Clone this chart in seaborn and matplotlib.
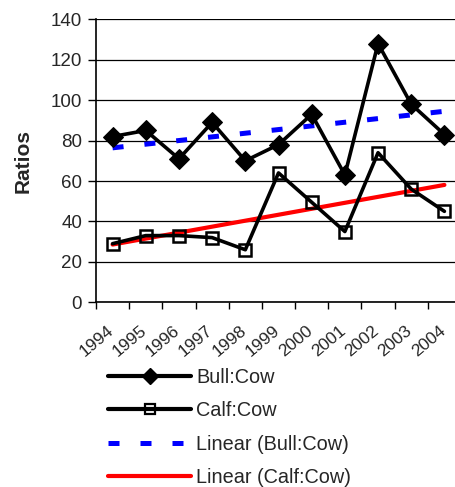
import numpy as np
import pandas as pd
import matplotlib
matplotlib.use("Agg")
import matplotlib.pyplot as plt
import matplotlib.transforms as mtrans
from matplotlib.lines import Line2D
import seaborn as sns

years = ["1994", "1995", "1996", "1997", "1998", "1999", "2000", "2001", "2002", "2003", "2004"]
bull_cow = [82, 85, 71, 89, 70, 78, 93, 63, 128, 98, 83]
calf_cow = [29, 33, 33, 32, 26, 64, 49.5, 35, 74, 56, 45]
y_ticks = [0, 20, 40, 60, 80, 100, 120, 140]

sns.set_theme(style="white")
plt.rcParams['font.family'] = ['Liberation Sans', 'DejaVu Sans']

df = pd.DataFrame({"Year": years, "Bull:Cow": bull_cow, "Calf:Cow": calf_cow})
idx = np.arange(len(years))
df["Linear (Bull:Cow)"] = np.polyval(np.polyfit(idx, bull_cow, 1), idx)
df["Linear (Calf:Cow)"] = np.polyval(np.polyfit(idx, calf_cow, 1), idx)

fig = plt.figure(figsize=(4.55, 4.87), dpi=100)
ax = fig.add_axes([96/455, 1 - 302.3/487, 365/455, 283/487])

sns.lineplot(data=df, x="Year", y="Linear (Bull:Cow)", ax=ax, color="#0000FF",
             lw=3.6, dashes=False, sort=False, zorder=2)
ax.lines[-1].set_dashes([2.2, 4.2])
sns.lineplot(data=df, x="Year", y="Linear (Calf:Cow)", ax=ax, color="#FF0000",
             lw=3.0, sort=False, zorder=2)
sns.lineplot(data=df, x="Year", y="Bull:Cow", ax=ax, color="black", lw=2.6,
             marker="D", markersize=10.5, markerfacecolor="black", markeredgecolor="black",
             sort=False, zorder=3)
sns.lineplot(data=df, x="Year", y="Calf:Cow", ax=ax, color="black", lw=2.6,
             marker="s", markersize=9, markerfacecolor="none", markeredgecolor="black",
             markeredgewidth=1.8, sort=False, zorder=3)

ax.set_xlim(-0.5, len(years) - 0.5)
ax.set_ylim(0, 140)
ax.set_yticks(y_ticks)
ax.set_yticklabels([str(v) for v in y_ticks], fontsize=13.5)
ax.yaxis.grid(True, color="black", lw=0.9)
ax.set_axisbelow(True)
ax.tick_params(axis="y", left=True, length=6, width=1, color="black", pad=4)

ax.set_xticks(idx)
ax.set_xticklabels(years, rotation=40, ha="right", va="top",
                   rotation_mode="anchor", fontsize=12.5)
ax.set_xticks(np.arange(-0.5, len(years), 1), minor=True)
ax.tick_params(axis="x", which="major", length=0, pad=15)
ax.tick_params(axis="x", which="minor", bottom=True, length=5, width=1, color="black")
off = mtrans.ScaledTranslation(-6/100, 0, fig.dpi_scale_trans)
for lab in ax.get_xticklabels():
    lab.set_transform(lab.get_transform() + off)

ax.set_xlabel("")
ax.set_ylabel("Ratios", fontsize=15, fontweight="bold", labelpad=13)
for s in ["top", "right"]:
    ax.spines[s].set_visible(False)
for s in ["left", "bottom"]:
    ax.spines[s].set_color("black")
    ax.spines[s].set_linewidth(1.2)

handles = [
    Line2D([], [], color="black", lw=3, marker="D", markersize=8),
    Line2D([], [], color="black", lw=3, marker="s", markersize=7,
           markerfacecolor="none", markeredgewidth=1.6),
    Line2D([], [], color="#0000FF", lw=3.6, dashes=[2.2, 4.2]),
    Line2D([], [], color="#FF0000", lw=3.0),
]
labels = ["Bull:Cow", "Calf:Cow", "Linear (Bull:Cow)", "Linear (Calf:Cow)"]
if ax.get_legend():
    ax.get_legend().remove()
fig.legend(handles, labels, loc="upper left", bbox_to_anchor=(100/455, 1 - 360/487),
           frameon=False, fontsize=14.3, handlelength=4.2, handletextpad=0.25,
           labelspacing=0.72, borderaxespad=0)

fig.savefig("out.png", dpi=100)
